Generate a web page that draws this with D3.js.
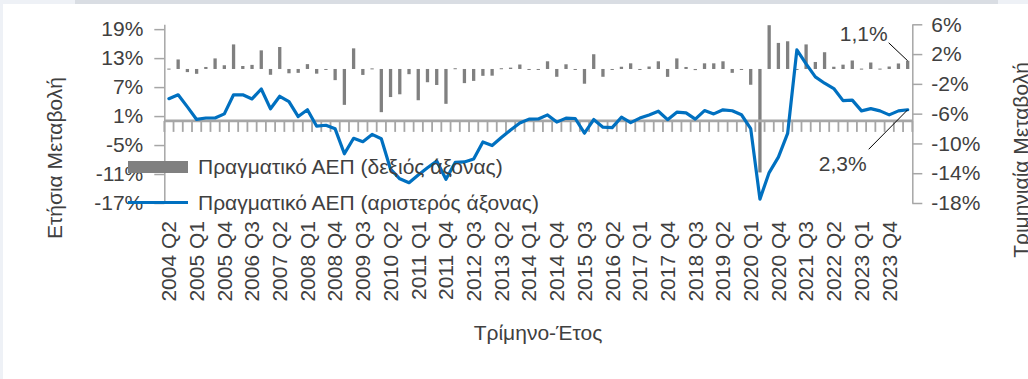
<!DOCTYPE html>
<html>
<head>
<meta charset="utf-8">
<script src="https://cdn.jsdelivr.net/npm/d3@7"></script>
<style>
  html, body { margin: 0; padding: 0; background: #ffffff; }
  svg { display: block; font-family: "Liberation Sans", Arial, sans-serif; }
  text { fill: #404040; }
</style>
</head>
<body>
<svg id="chart" width="1028" height="379"></svg>
<script>
// Quarters shown on the category axis (2004 Q2 – 2024 Q2)
const quarters = [
  "2004 Q2","2004 Q3","2004 Q4",
  "2005 Q1","2005 Q2","2005 Q3","2005 Q4",
  "2006 Q1","2006 Q2","2006 Q3","2006 Q4",
  "2007 Q1","2007 Q2","2007 Q3","2007 Q4",
  "2008 Q1","2008 Q2","2008 Q3","2008 Q4",
  "2009 Q1","2009 Q2","2009 Q3","2009 Q4",
  "2010 Q1","2010 Q2","2010 Q3","2010 Q4",
  "2011 Q1","2011 Q2","2011 Q3","2011 Q4",
  "2012 Q1","2012 Q2","2012 Q3","2012 Q4",
  "2013 Q1","2013 Q2","2013 Q3","2013 Q4",
  "2014 Q1","2014 Q2","2014 Q3","2014 Q4",
  "2015 Q1","2015 Q2","2015 Q3","2015 Q4",
  "2016 Q1","2016 Q2","2016 Q3","2016 Q4",
  "2017 Q1","2017 Q2","2017 Q3","2017 Q4",
  "2018 Q1","2018 Q2","2018 Q3","2018 Q4",
  "2019 Q1","2019 Q2","2019 Q3","2019 Q4",
  "2020 Q1","2020 Q2","2020 Q3","2020 Q4",
  "2021 Q1","2021 Q2","2021 Q3","2021 Q4",
  "2022 Q1","2022 Q2","2022 Q3","2022 Q4",
  "2023 Q1","2023 Q2","2023 Q3","2023 Q4",
  "2024 Q1","2024 Q2"
];

// Real GDP, year-on-year change (%), left axis
const annualChange = [
   4.6,  5.4,  2.9,  0.3,  0.6,  0.6,  1.45,  5.4,  5.4,  4.55,
   6.6,  2.5,  5.1,  4.0,  0.9,  2.3, -1.1,  -0.9, -1.65, -6.8,
  -3.6, -4.3, -2.8, -3.7, -10.0, -12.0, -12.8, -11.2, -9.7, -8.3,
 -12.1, -8.6, -8.5, -7.9, -4.35, -5.1, -3.45, -1.9, -0.45, 0.37,
   0.4,  1.24, -0.25, 0.58, 0.5, -2.55, 0.28, -1.3, -1.38, 0.76,
  -0.37, 0.58, 1.24, 2.0,  0.25, 1.8,  1.66, 0.37, 2.14, 1.45,
   2.3,  2.1,  1.27, -1.6, -16.2, -10.7, -7.5, -2.6, 14.7, 11.8,
   9.1,  7.8,  6.7,  4.2,  4.3,  2.07, 2.55, 2.07, 1.24, 2.07,
   2.3
];

// Real GDP, quarter-on-quarter change (%), right axis
const quarterlyChange = [
   0.05, 1.28, -0.42, -0.65, 0.27, 1.42, 0.5,  3.3,  0.4,  0.55,
   2.5, -0.78, 2.95, -0.58, -0.52, 0.65, -0.63, -0.05, -1.5, -4.82,
   2.77, -0.8, 0.08, -5.8, -3.77, -3.4, -0.7, -4.2, -1.78, -2.15,
  -4.68, 0.1, -1.9, -1.6, -0.92, -0.9, 0.1,  0.18, 0.6, -0.1,
  -0.1,  1.03, -1.05, 0.63, -0.08, -1.98, 1.98, -1.05, -0.12, 0.3,
   0.76, -0.06, 0.33, 1.03, -1.06, 1.42, 0.27, -0.15, 0.76, 0.76,
   1.03, -0.52, -0.07, -2.12, -13.9, 5.88, 3.5, 3.72, 0.0, 3.3,
   0.94, 2.25, 0.3, 0.58, 1.14, 0.05, 0.87, 0.05, 0.33, 0.74,
   1.1
];

const leftTicks = [-17, -11, -5, 1, 7, 13, 19];
const rightTicks = [-18, -14, -10, -6, -2, 2, 6];
const seriesNames = ["Πραγματικό ΑΕΠ (δεξιός άξονας)", "Πραγματικό ΑΕΠ (αριστερός άξονας)"];
const leftTitle = "Ετήσια Μεταβολή";
const rightTitle = "Τριμηνιαία Μεταβολή";
const bottomTitle = "Τρίμηνο-Έτος";

const FONT = 21;
const TEXT = "#404040";
const AXIS = "#a6a6a6";
const BAR = "#808080";
const LINE = "#0070c0";

const svg = d3.select("#chart");

// page frame strips
svg.append("rect").attr("x", 0).attr("y", 0).attr("width", 1028).attr("height", 4).attr("fill", "#eef1f6");
svg.append("rect").attr("x", 75).attr("y", 0).attr("width", 923).attr("height", 4).attr("fill", "#d9dde3");
svg.append("rect").attr("x", 0).attr("y", 0).attr("width", 3).attr("height", 379).attr("fill", "#eef1f6");

const plot = { left: 164.3, right: 912.3, top: 24.3, bottom: 203 };

const x = d3.scaleBand().domain(quarters).range([plot.left, plot.right]).padding(0);
const cx = d => x(d) + x.bandwidth() / 2;
const yL = d3.scaleLinear().domain([-17, 20]).range([plot.bottom, plot.top]);
const yR = d3.scaleLinear().domain([-18, 6]).range([plot.bottom, plot.top]);

const fmt = d3.formatLocale({ decimal: ",", thousands: ".", grouping: [3], currency: ["", "€"] });
const pct = v => fmt.format(".1f")(v) + "%";

// left axis
const gL = svg.append("g").attr("transform", `translate(${plot.left},0)`)
  .call(d3.axisLeft(yL).tickValues(leftTicks).tickSize(10).tickSizeOuter(0).tickPadding(11).tickFormat(d => d + "%"));
// right axis
const gR = svg.append("g").attr("transform", `translate(${plot.right},0)`)
  .call(d3.axisRight(yR).tickValues(rightTicks).tickSize(10).tickSizeOuter(0).tickPadding(9).tickFormat(d => d + "%"));
[gL, gR].forEach(g => {
  g.select(".domain").attr("stroke", AXIS).attr("stroke-width", 1.5);
  g.selectAll(".tick line").attr("stroke", AXIS).attr("stroke-width", 1.5);
  g.selectAll(".tick text").attr("font-size", FONT).attr("fill", TEXT).attr("font-family", null);
});
gL.attr("font-family", null);
gR.attr("font-family", null);

// quarterly bars (right axis)
svg.append("g").selectAll("rect").data(quarters).join("rect")
  .attr("x", d => cx(d) - 1.65)
  .attr("width", 3.3)
  .attr("y", (d, i) => Math.min(yR(quarterlyChange[i]), yR(0)))
  .attr("height", (d, i) => Math.max(Math.abs(yR(quarterlyChange[i]) - yR(0)), 1))
  .attr("fill", BAR);

// category axis crossing at 0 on the left axis
const y0 = yL(0);
const boundaries = quarters.map(d => x(d)).concat([x(quarters[quarters.length - 1]) + x.step()]);
svg.append("g").selectAll("line").data(boundaries).join("line")
  .attr("x1", d => d).attr("x2", d => d)
  .attr("y1", y0).attr("y2", y0 + 11)
  .attr("stroke", AXIS).attr("stroke-width", 1.8);
svg.append("line")
  .attr("x1", plot.left).attr("x2", plot.right)
  .attr("y1", y0).attr("y2", y0)
  .attr("stroke", AXIS).attr("stroke-width", 2.6);

// category labels (every third quarter)
svg.append("g").selectAll("text").data(quarters.filter((d, i) => i % 3 === 0)).join("text")
  .attr("transform", d => `translate(${cx(d)},221) rotate(-90)`)
  .attr("dy", "0.35em")
  .attr("text-anchor", "end")
  .attr("font-size", FONT)
  .text(d => d);

// annual change line (left axis)
const line = d3.line().x(d => cx(d)).y((d, i) => yL(annualChange[i]));
svg.append("path").datum(quarters)
  .attr("d", line)
  .attr("fill", "none")
  .attr("stroke", LINE)
  .attr("stroke-width", 3.2)
  .attr("stroke-linejoin", "round")
  .attr("stroke-linecap", "round");

// annotations for the latest quarter
const last = quarters.length - 1;
const lastX = cx(quarters[last]);
const barTop = yR(quarterlyChange[last]);
const linePt = yL(annualChange[last]);
svg.append("line").attr("x1", lastX - 19).attr("y1", barTop - 18).attr("x2", lastX).attr("y2", barTop)
  .attr("stroke", "#000").attr("stroke-width", 1);
svg.append("text").attr("x", lastX - 20).attr("y", barTop - 20).attr("text-anchor", "end")
  .attr("font-size", FONT).text(pct(quarterlyChange[last]));
svg.append("line").attr("x1", lastX - 39).attr("y1", linePt + 39.5).attr("x2", lastX).attr("y2", linePt)
  .attr("stroke", "#000").attr("stroke-width", 1);
svg.append("text").attr("x", lastX - 41).attr("y", linePt + 61).attr("text-anchor", "end")
  .attr("font-size", FONT).text(pct(annualChange[last]));

// legend
const lg = svg.append("g");
lg.append("rect").attr("x", 128).attr("y", 161).attr("width", 60).attr("height", 12).attr("fill", BAR);
lg.append("text").attr("x", 198).attr("y", 167).attr("dy", "0.35em").attr("font-size", FONT).text(seriesNames[0]);
lg.append("line").attr("x1", 128).attr("x2", 188).attr("y1", 202.5).attr("y2", 202.5)
  .attr("stroke", LINE).attr("stroke-width", 3.2);
lg.append("text").attr("x", 198).attr("y", 203).attr("dy", "0.35em").attr("font-size", FONT).text(seriesNames[1]);

// axis titles
svg.append("text").attr("transform", "translate(55,158) rotate(-90)").attr("dy", "0.35em")
  .attr("text-anchor", "middle").attr("font-size", FONT).text(leftTitle);
svg.append("text").attr("transform", "translate(1028,160) rotate(-90)")
  .attr("text-anchor", "middle").attr("font-size", FONT).text(rightTitle);
svg.append("text").attr("x", 538).attr("y", 333).attr("dy", "0.35em")
  .attr("text-anchor", "middle").attr("font-size", FONT).text(bottomTitle);
</script>
</body>
</html>
